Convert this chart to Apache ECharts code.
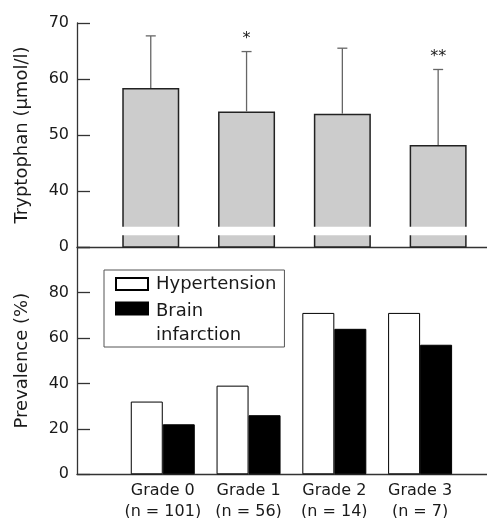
<!DOCTYPE html>
<html>
<head>
<meta charset="utf-8">
<script src="https://cdn.jsdelivr.net/npm/echarts@6/dist/echarts.min.js"></script>
<style>
html, body { margin: 0; padding: 0; background: #fff; }
#chart { width: 487px; height: 518px; }
</style>
</head>
<body>
<div id="chart"></div>
<script>
// values
const grades = ['Grade 0', 'Grade 1', 'Grade 2', 'Grade 3']
const groupSizes = [101, 56, 14, 7]
const tryptophanMean = [58.4, 54.2, 53.8, 48.2]
const tryptophanSd = [9.3, 10.7, 11.7, 13.5]
const significance = ['', '*', '', '**']
const hypertension = [32, 39, 71, 71]
const brainInfarction = [22, 26, 64, 57]

// broken y axis on the upper panel: 30 is shown as 0
const AXIS_BASE = 30
const BREAK_RANGE = [32.1, 33.6]

const FONT = 'DejaVu Sans'
const AXIS_COLOR = '#333'
const TEXT_COLOR = '#1a1a1a'

const chart = echarts.init(document.getElementById('chart'))

const axisLine = { show: true, onZero: false, lineStyle: { color: AXIS_COLOR, width: 1.3 } }
const yTick = { show: true, inside: true, length: 13, lineStyle: { color: AXIS_COLOR, width: 1.3 } }
const labelStyle = { color: TEXT_COLOR, fontFamily: FONT, fontSize: 16, margin: 8 }
const nameStyle = { color: TEXT_COLOR, fontFamily: FONT, fontSize: 18 }
const legendText = { fontFamily: FONT, fontSize: 18, color: TEXT_COLOR }

const option = {
  animation: false,
  grid: [
    { left: 77, right: 0, top: 23, height: 224, outerBoundsMode: 'none' },
    { left: 77, right: 0, top: 247, height: 227.3, outerBoundsMode: 'none' }
  ],
  legend: {
    orient: 'vertical',
    left: 104,
    top: 270,
    itemWidth: 32,
    itemHeight: 12,
    itemGap: -26,
    padding: [0, 8, 0, 11],
    backgroundColor: '#fff',
    borderColor: '#555',
    borderWidth: 1,
    selectedMode: false,
    textStyle: {
      ...legendText,
      lineHeight: 24,
      padding: [0, 0, 0, 3],
      rich: {
        gap: { ...legendText, lineHeight: 29 },
        t: { ...legendText, lineHeight: 24 }
      }
    },
    // a spacer line keeps "Brain" level with its swatch
    formatter: (name) => {
      if (name.indexOf('\n') < 0) return name
      return '{gap| }\n' + name.split('\n').map((s) => '{t|' + s + '}').join('\n')
    },
    data: [
      { name: 'Hypertension', icon: 'rect' },
      { name: 'Brain\ninfarction', icon: 'rect' }
    ]
  },
  xAxis: [
    {
      type: 'value',
      gridIndex: 0,
      min: -0.77,
      max: 3.51,
      axisLine: axisLine,
      axisTick: { show: false },
      axisLabel: { show: false },
      splitLine: { show: false }
    },
    {
      type: 'value',
      gridIndex: 1,
      min: -1,
      max: 3.78,
      interval: 1,
      axisLine: axisLine,
      axisTick: { show: false },
      axisLabel: {
        ...labelStyle,
        margin: 6,
        lineHeight: 21,
        formatter: (v) => {
          if (!Number.isInteger(v) || v < 0 || v >= grades.length) return ''
          return grades[v] + '\n(n = ' + groupSizes[v] + ')'
        }
      },
      splitLine: { show: false }
    }
  ],
  yAxis: [
    {
      type: 'value',
      gridIndex: 0,
      min: AXIS_BASE,
      max: 70,
      interval: 10,
      name: 'Tryptophan (µmol/l)',
      nameLocation: 'middle',
      nameGap: 46,
      nameTextStyle: nameStyle,
      axisLine: axisLine,
      axisTick: yTick,
      axisLabel: { ...labelStyle, formatter: (v) => (v === AXIS_BASE ? '0' : String(v)) },
      splitLine: { show: false }
    },
    {
      type: 'value',
      gridIndex: 1,
      min: 0,
      max: 100,
      interval: 20,
      name: 'Prevalence (%)',
      nameLocation: 'middle',
      nameGap: 46,
      nameTextStyle: nameStyle,
      axisLine: axisLine,
      axisTick: yTick,
      axisLabel: { ...labelStyle, formatter: (v) => (v === 100 ? '' : String(v)) },
      splitLine: { show: false }
    }
  ],
  series: [
    {
      name: 'Tryptophan',
      type: 'bar',
      xAxisIndex: 0,
      yAxisIndex: 0,
      barWidth: 57,
      z: 2,
      itemStyle: { color: '#cccccc', borderColor: '#222', borderWidth: 1.5 },
      data: tryptophanMean.map((v, i) => [i, v])
    },
    {
      // white band marking the axis break
      name: 'break',
      type: 'custom',
      xAxisIndex: 0,
      yAxisIndex: 0,
      z: 3,
      silent: true,
      encode: { x: 0, y: 1 },
      data: grades.map((g, i) => [i, BREAK_RANGE[0], BREAK_RANGE[1]]),
      renderItem: (params, api) => {
        const lo = api.coord([api.value(0), api.value(1)])
        const hi = api.coord([api.value(0), api.value(2)])
        const w = 63
        return {
          type: 'rect',
          shape: { x: lo[0] - w / 2, y: hi[1], width: w, height: lo[1] - hi[1] },
          style: { fill: '#fff' }
        }
      }
    },
    {
      name: 'SD',
      type: 'custom',
      xAxisIndex: 0,
      yAxisIndex: 0,
      z: 4,
      silent: true,
      encode: { x: 0, y: 2 },
      data: tryptophanMean.map((v, i) => [i, v, v + tryptophanSd[i]]),
      renderItem: (params, api) => {
        const i = params.dataIndex
        const base = api.coord([api.value(0), api.value(1)])
        const top = api.coord([api.value(0), api.value(2)])
        const stroke = { stroke: '#666', lineWidth: 1.3 }
        const children = [
          { type: 'line', shape: { x1: base[0], y1: base[1], x2: top[0], y2: top[1] }, style: stroke },
          { type: 'line', shape: { x1: top[0] - 5, y1: top[1], x2: top[0] + 5, y2: top[1] }, style: stroke }
        ]
        if (significance[i]) {
          children.push({
            type: 'text',
            style: {
              text: significance[i],
              x: top[0],
              y: top[1] - 13,
              align: 'center',
              verticalAlign: 'middle',
              fontFamily: FONT,
              fontSize: 16,
              fill: TEXT_COLOR
            }
          })
        }
        return { type: 'group', children: children }
      }
    },
    {
      name: 'Hypertension',
      type: 'bar',
      xAxisIndex: 1,
      yAxisIndex: 1,
      barWidth: 32,
      barGap: '0%',
      itemStyle: { color: '#fff', borderColor: '#000', borderWidth: 1 },
      data: hypertension.map((v, i) => [i, v])
    },
    {
      name: 'Brain\ninfarction',
      type: 'bar',
      xAxisIndex: 1,
      yAxisIndex: 1,
      barWidth: 32,
      barGap: '0%',
      itemStyle: { color: '#000', borderColor: '#000', borderWidth: 1 },
      data: brainInfarction.map((v, i) => [i, v])
    }
  ]
}

chart.setOption(option)
</script>
</body>
</html>
